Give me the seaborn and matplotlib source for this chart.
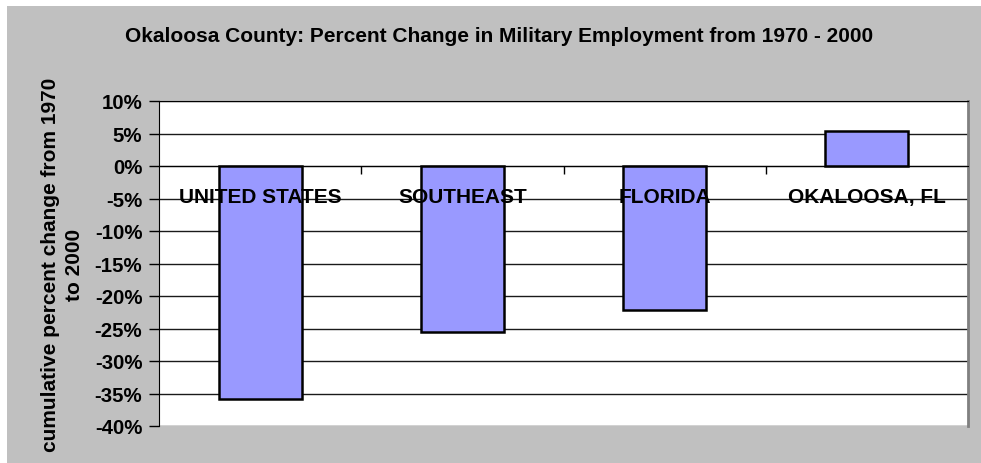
import matplotlib
matplotlib.use('Agg')
import matplotlib.pyplot as plt
from matplotlib.patches import Rectangle
from matplotlib.ticker import FuncFormatter, FixedLocator, NullFormatter
import seaborn as sns

# Data
regions = ['UNITED STATES', 'SOUTHEAST', 'FLORIDA', 'OKALOOSA, FL']
pct_change = [-35.9, -25.6, -22.1, 5.4]
y_ticks = [10, 5, 0, -5, -10, -15, -20, -25, -30, -35, -40]

TITLE = 'Okaloosa County: Percent Change in Military Employment from 1970 - 2000'
YLABEL = 'cumulative percent change from 1970\nto 2000'

sns.set_style('white')
plt.rcParams['font.family'] = ['Liberation Sans', 'DejaVu Sans']
plt.rcParams['font.weight'] = 'bold'
plt.rcParams['text.color'] = 'black'
plt.rcParams['axes.labelcolor'] = 'black'
plt.rcParams['xtick.color'] = 'black'
plt.rcParams['ytick.color'] = 'black'

fig = plt.figure(figsize=(9.81, 4.64), dpi=100, facecolor='white')
# gray chart area (white strip on top and left like the original export)
fig.patches.append(Rectangle((7 / 981, 0), 1, 1 - 7 / 464, transform=fig.transFigure,
                             facecolor='#C0C0C0', edgecolor='none', zorder=-10))

ax = fig.add_axes([159 / 981, 1 - 427 / 464, (968 - 159) / 981, (427 - 102) / 464])
ax.set_facecolor('white')

for t in y_ticks:
    ax.axhline(t, color='#1a1a1a', lw=1, zorder=0)

sns.barplot(x=regions, y=pct_change, color='#9999FF', edgecolor='black',
            linewidth=1.8, width=0.41, saturation=1, ax=ax, zorder=2)

ax.set_ylim(min(y_ticks), max(y_ticks))
ax.set_xlim(-0.5, len(regions) - 0.5)
ax.set_yticks(y_ticks)
ax.yaxis.set_major_formatter(FuncFormatter(lambda v, p: f'{v:.0f}%'))
ax.tick_params(axis='y', length=7, width=1, direction='out', pad=5,
               labelsize=14.7, left=True)

# category axis crosses at 0, labels sit just below it and on top of the bars
ax.spines['bottom'].set_position(('data', 0))
ax.spines['bottom'].set_color('black')
ax.spines['bottom'].set_zorder(3)
ax.xaxis.set_zorder(5)
ax.xaxis.set_major_locator(FixedLocator([i + 0.5 for i in range(len(regions) - 1)]))
ax.xaxis.set_major_formatter(NullFormatter())
ax.xaxis.set_minor_locator(FixedLocator(range(len(regions))))
ax.xaxis.set_minor_formatter(FuncFormatter(lambda v, p: regions[int(round(v))]))
ax.tick_params(axis='x', which='major', length=6, width=1, direction='out', bottom=True)
ax.tick_params(axis='x', which='minor', length=0, pad=15, labelsize=15)

ax.spines['left'].set_color('black')
ax.spines['top'].set_color('black')
ax.spines['right'].set_color('#808080')
ax.spines['right'].set_linewidth(2)

ax.set_xlabel('')
ax.set_ylabel(YLABEL, fontsize=15, fontweight='bold', labelpad=8, linespacing=1.3)

fig.text(499 / 981, 1 - 36 / 464, TITLE, ha='center', va='center',
         fontsize=15, fontweight='bold')

fig.savefig('out.png', dpi=100, facecolor=fig.get_facecolor())
